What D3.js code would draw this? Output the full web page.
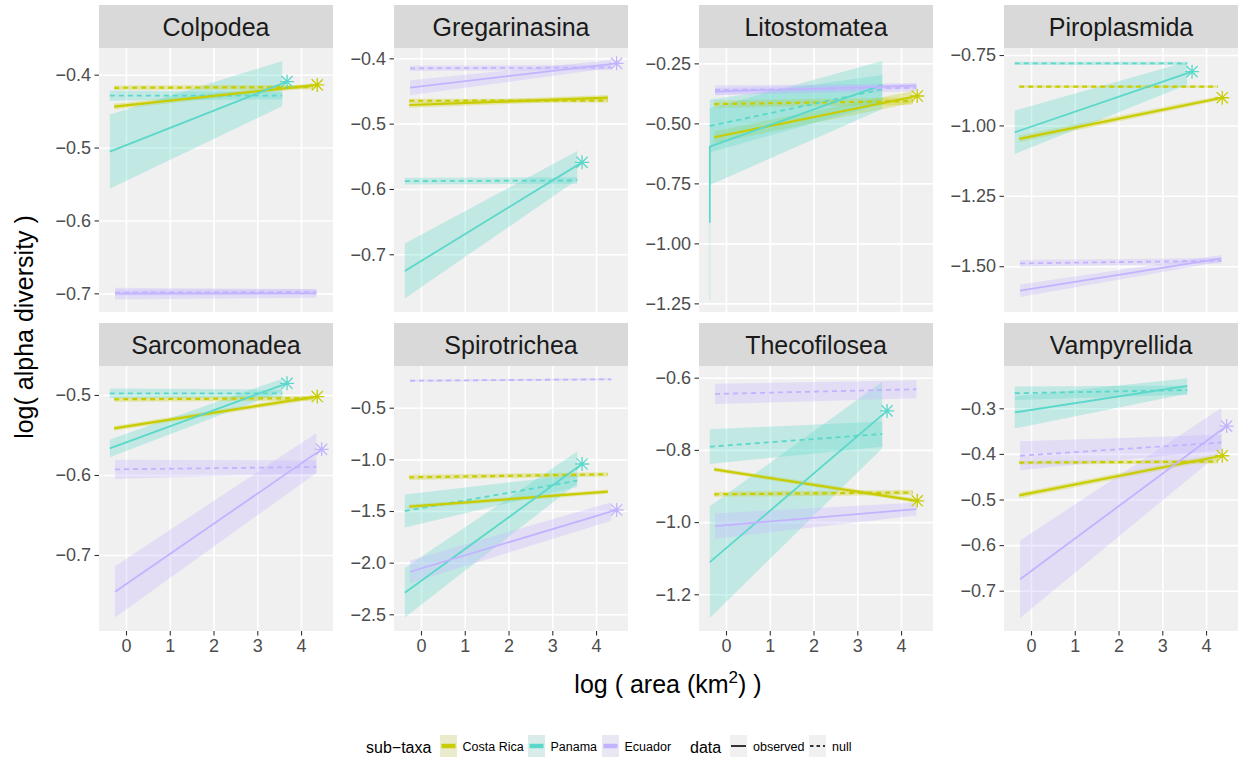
<!DOCTYPE html>
<html>
<head>
<meta charset="utf-8">
<script src="https://cdn.jsdelivr.net/npm/d3@7"></script>
<style>
body { margin: 0; background: #fff; }
text { font-family: "Liberation Sans", Arial, Helvetica, sans-serif; }
</style>
</head>
<body>
<svg id="chart" width="1239" height="761"></svg>
<script>
let TAXA = ["Colpodea", "Gregarinasina", "Litostomatea", "Piroplasmida",
            "Sarcomonadea", "Spirotrichea", "Thecofilosea", "Vampyrellida"];
let SITES = ["Costa Rica", "Panama", "Ecuador"];
let SITE_COLORS = ["#c8cc00", "#5ad8c9", "#c3b3ff"];

let X_TICKS = [0, 1, 2, 3, 4];
let X_DOMAIN = [-0.617, 4.73];
// free y scales, [top, bottom]
let Y_DOMAINS = [[-0.3634, -0.7256], [-0.3842, -0.7884], [-0.186, -1.286], [-0.725, -1.6626],
                 [-0.4638, -0.795], [-0.0963, -2.6617], [-0.5676, -1.3017], [-0.2072, -0.7884]];
let Y_TICKS = [[-0.4, -0.5, -0.6, -0.7], [-0.4, -0.5, -0.6, -0.7], [-0.25, -0.5, -0.75, -1, -1.25],
               [-0.75, -1, -1.25, -1.5], [-0.5, -0.6, -0.7], [-0.5, -1, -1.5, -2, -2.5],
               [-0.6, -0.8, -1, -1.2], [-0.3, -0.4, -0.5, -0.6, -0.7]];
let Y_FORMATS = [".1f", ".1f", ".2f", ".2f", ".1f", ".1f", ".1f", ".1f"];

// x extent per site: first point, last point of the band, asterisk position
let X_START = [-0.27, -0.37, -0.25];
let X_END = [4.27, 3.57, 4.35];
let X_STAR = [4.37, 3.68, 4.47];

// taxon, site, y at start, y at end, band half width at start, at end, significant
let observed = [
    ["Colpodea", "Costa Rica", -0.4438, -0.414, 0.004, 0.003, true],
    ["Colpodea", "Panama", -0.5055, -0.4096, 0.051, 0.031, true],
    ["Colpodea", "Ecuador", -0.7005, -0.700, 0.008, 0.006, false],
    ["Gregarinasina", "Costa Rica", -0.4715, -0.4603, 0.004, 0.004, false],
    ["Gregarinasina", "Panama", -0.7257, -0.5593, 0.042, 0.022, true],
    ["Gregarinasina", "Ecuador", -0.445, -0.4077, 0.0115, 0.006, true],
    ["Litostomatea", "Costa Rica", -0.558, -0.386, 0.025, 0.025, true],
    ["Litostomatea", "Panama", -0.597, -0.340, 0.16, 0.10, false],
    ["Litostomatea", "Ecuador", -0.368, -0.343, 0.015, 0.012, false],
    ["Piroplasmida", "Costa Rica", -1.048, -0.9016, 0.012, 0.008, true],
    ["Piroplasmida", "Panama", -1.0245, -0.809, 0.077, 0.041, true],
    ["Piroplasmida", "Ecuador", -1.587, -1.472, 0.022, 0.012, false],
    ["Sarcomonadea", "Costa Rica", -0.5417, -0.502, 0.003, 0.003, true],
    ["Sarcomonadea", "Panama", -0.5667, -0.4854, 0.011, 0.008, true],
    ["Sarcomonadea", "Ecuador", -0.746, -0.568, 0.032, 0.025, true],
    ["Spirotrichea", "Costa Rica", -1.458, -1.313, 0.02, 0.02, false],
    ["Spirotrichea", "Panama", -2.291, -1.045, 0.24, 0.155, true],
    ["Spirotrichea", "Ecuador", -2.088, -1.49, 0.11, 0.09, true],
    ["Thecofilosea", "Costa Rica", -0.854, -0.941, 0.006, 0.006, true],
    ["Thecofilosea", "Panama", -1.111, -0.692, 0.155, 0.092, true],
    ["Thecofilosea", "Ecuador", -1.011, -0.964, 0.035, 0.018, false],
    ["Vampyrellida", "Costa Rica", -0.491, -0.404, 0.006, 0.006, true],
    ["Vampyrellida", "Panama", -0.309, -0.251, 0.035, 0.017, false],
    ["Vampyrellida", "Ecuador", -0.675, -0.339, 0.085, 0.048, true]
];

// taxon, site, y at start, y at end, band half width at start, at end
let nullFits = [
    ["Colpodea", "Costa Rica", -0.418, -0.417, 0.003, 0.003],
    ["Colpodea", "Panama", -0.4288, -0.4288, 0.007, 0.005],
    ["Colpodea", "Ecuador", -0.699, -0.698, 0.004, 0.004],
    ["Gregarinasina", "Costa Rica", -0.465, -0.4647, 0.003, 0.003],
    ["Gregarinasina", "Panama", -0.588, -0.587, 0.005, 0.005],
    ["Gregarinasina", "Ecuador", -0.4153, -0.414, 0.004, 0.004],
    ["Litostomatea", "Costa Rica", -0.4196, -0.407, 0.015, 0.015],
    ["Litostomatea", "Panama", -0.511, -0.358, 0.11, 0.06],
    ["Litostomatea", "Ecuador", -0.361, -0.352, 0.02, 0.015],
    ["Piroplasmida", "Costa Rica", -0.8625, -0.8625, 0.004, 0.004],
    ["Piroplasmida", "Panama", -0.7795, -0.7795, 0.006, 0.006],
    ["Piroplasmida", "Ecuador", -1.49, -1.4805, 0.012, 0.01],
    ["Sarcomonadea", "Costa Rica", -0.5054, -0.504, 0.003, 0.003],
    ["Sarcomonadea", "Panama", -0.498, -0.498, 0.006, 0.005],
    ["Sarcomonadea", "Ecuador", -0.593, -0.59, 0.012, 0.008],
    ["Spirotrichea", "Costa Rica", -1.174, -1.145, 0.025, 0.02],
    ["Spirotrichea", "Panama", -1.5, -1.207, 0.16, 0.06],
    ["Spirotrichea", "Ecuador", -0.239, -0.225, 0.01, 0.01],
    ["Thecofilosea", "Costa Rica", -0.923, -0.918, 0.007, 0.007],
    ["Thecofilosea", "Panama", -0.791, -0.756, 0.048, 0.035],
    ["Thecofilosea", "Ecuador", -0.645, -0.632, 0.028, 0.025],
    ["Vampyrellida", "Costa Rica", -0.419, -0.417, 0.004, 0.004],
    ["Vampyrellida", "Panama", -0.267, -0.26, 0.015, 0.01],
    ["Vampyrellida", "Ecuador", -0.404, -0.375, 0.032, 0.017]
];

// odd vertical piece at the start of a line: taxon, site, line from, band low
let spikes = [["Litostomatea", "Panama", -0.914, -1.236]];

let svg = d3.select("#chart");
let colLeft = [99, 394, 699, 1004];
let panelW = 234;
let stripTop = [5, 323];
let stripH = 43;
let plotTop = [48, 366];
let plotBottom = [312, 631];

let x = d3.scaleLinear().domain(X_DOMAIN).range([0, panelW]);

function fitGeom(row, isObs) {
    let s = SITES.indexOf(row[1]);
    let x0 = X_START[s];
    let x1 = (isObs && row[6]) ? X_STAR[s] : X_END[s];
    let at = xv => row[2] + (row[3] - row[2]) * (xv - x0) / (x1 - x0);
    let band = [
        {x: x0, lo: row[2] - row[4], hi: row[2] + row[4]},
        {x: X_END[s], lo: at(X_END[s]) - row[5], hi: at(X_END[s]) + row[5]}
    ];
    return {s: s, line: [{x: x0, y: row[2]}, {x: x1, y: row[3]}], band: band, star: isObs && row[6]};
}

function starPath(cx, cy) {
    let a = 7, b = 5.6;
    return `M${cx - a},${cy}L${cx + a},${cy}M${cx},${cy - a}L${cx},${cy + a}` +
           `M${cx - b},${cy - b}L${cx + b},${cy + b}M${cx - b},${cy + b}L${cx + b},${cy - b}`;
}

TAXA.forEach((taxon, i) => {
    let col = i % 4, row = Math.floor(i / 4);
    let h = plotBottom[row] - plotTop[row];
    let y = d3.scaleLinear().domain(Y_DOMAINS[i]).range([0, h]);

    // strip
    svg.append("rect")
        .attr("x", colLeft[col]).attr("y", stripTop[row])
        .attr("width", panelW).attr("height", stripH)
        .attr("fill", "#d9d9d9");
    svg.append("text")
        .attr("x", colLeft[col] + panelW / 2)
        .attr("y", stripTop[row] + stripH / 2 + 9)
        .attr("text-anchor", "middle")
        .attr("font-size", 25)
        .attr("fill", "#1a1a1a")
        .text(taxon);

    let g = svg.append("g").attr("transform", `translate(${colLeft[col]},${plotTop[row]})`);
    g.append("rect").attr("width", panelW).attr("height", h).attr("fill", "#f0f0f0");

    // grid
    let gx = g.append("g")
        .call(d3.axisBottom(x).tickValues(X_TICKS).tickSize(h).tickFormat(""));
    let gy = g.append("g").call(d3.axisRight(y).tickValues(Y_TICKS[i]).tickSize(panelW).tickFormat(""));
    [gx, gy].forEach(a => {
        a.select(".domain").remove();
        a.selectAll("line").attr("stroke", "#ffffff").attr("stroke-width", 1.6);
    });

    let clipId = "clip" + i;
    g.append("clipPath").attr("id", clipId)
        .append("rect").attr("width", panelW).attr("height", h);
    let body = g.append("g").attr("clip-path", `url(#${clipId})`);

    let area = d3.area().x(d => x(d.x)).y0(d => y(d.lo)).y1(d => y(d.hi));
    let line = d3.line().x(d => x(d.x)).y(d => y(d.y));

    let obs = observed.filter(r => r[0] == taxon).map(r => fitGeom(r, true));
    let nul = nullFits.filter(r => r[0] == taxon).map(r => fitGeom(r, false));
    let sp = spikes.filter(r => r[0] == taxon);

    // bands
    obs.concat(nul).forEach(f => {
        body.append("path").attr("d", area(f.band))
            .attr("fill", SITE_COLORS[f.s]).attr("fill-opacity", 0.3);
    });
    sp.forEach(r => {
        let s = SITES.indexOf(r[1]);
        body.append("line")
            .attr("x1", x(X_START[s])).attr("x2", x(X_START[s]))
            .attr("y1", y(r[2])).attr("y2", y(r[3]))
            .attr("stroke", SITE_COLORS[s]).attr("stroke-opacity", 0.15).attr("stroke-width", 2);
    });

    // null lines
    nul.forEach(f => {
        body.append("path").attr("d", line(f.line))
            .attr("fill", "none").attr("stroke", SITE_COLORS[f.s])
            .attr("stroke-width", f.s == 0 ? 2.2 : 1.8)
            .attr("stroke-dasharray", "5,4");
    });
    // observed lines
    obs.forEach(f => {
        let pts = f.line.slice();
        let spk = sp.find(r => SITES.indexOf(r[1]) == f.s);
        if (spk) pts.unshift({x: f.line[0].x, y: spk[2]});
        body.append("path").attr("d", line(pts))
            .attr("fill", "none").attr("stroke", SITE_COLORS[f.s])
            .attr("stroke-width", f.s == 0 ? 2.2 : 1.8);
    });
    // significance asterisks
    obs.filter(f => f.star).forEach(f => {
        let p = f.line[1];
        g.append("path").attr("d", starPath(x(p.x), y(p.y)))
            .attr("fill", "none").attr("stroke", SITE_COLORS[f.s]).attr("stroke-width", 1.3);
    });

    // y axis
    let ay = g.append("g")
        .call(d3.axisLeft(y).tickValues(Y_TICKS[i]).tickFormat(d3.format(Y_FORMATS[i]))
            .tickSize(4.5).tickPadding(3.5));
    ay.select(".domain").remove();
    ay.selectAll("line").attr("stroke", "#333333").attr("stroke-width", 1.1);
    ay.selectAll("text").attr("font-size", 18).attr("fill", "#4d4d4d")
        .attr("font-family", "'Liberation Sans', Arial, Helvetica, sans-serif");

    // x axis on the bottom row only
    if (row == 1) {
        let ax = g.append("g").attr("transform", `translate(0,${h})`)
            .call(d3.axisBottom(x).tickValues(X_TICKS).tickFormat(d3.format("d"))
                .tickSize(4.5).tickPadding(4));
        ax.select(".domain").remove();
        ax.selectAll("line").attr("stroke", "#333333").attr("stroke-width", 1.1);
        ax.selectAll("text").attr("font-size", 18).attr("fill", "#4d4d4d")
            .attr("font-family", "'Liberation Sans', Arial, Helvetica, sans-serif");
    }
});

// axis titles
let xt = svg.append("text")
    .attr("x", 668).attr("y", 693)
    .attr("text-anchor", "middle").attr("font-size", 25).attr("fill", "#000");
xt.append("tspan").text("log ( area (km");
xt.append("tspan").attr("font-size", 17).attr("dy", -10).text("2");
xt.append("tspan").attr("dy", 10).text(") )");

svg.append("text")
    .attr("transform", "translate(33,327) rotate(-90)")
    .attr("text-anchor", "middle").attr("font-size", 25).attr("fill", "#000")
    .text("log( alpha diversity )");

// legend
let legY = 746;
let legend = svg.append("g");
legend.append("text").attr("x", 366).attr("y", legY + 7).attr("font-size", 16).text("sub\u2212taxa");
let siteKeyX = [440, 528, 602];
SITES.forEach((site, k) => {
    legend.append("rect").attr("x", siteKeyX[k]).attr("y", legY - 11)
        .attr("width", 17).attr("height", 22).attr("fill", "#f0f0f0");
    legend.append("rect").attr("x", siteKeyX[k]).attr("y", legY - 11)
        .attr("width", 17).attr("height", 22).attr("fill", SITE_COLORS[k]).attr("fill-opacity", 0.15);
    legend.append("line").attr("x1", siteKeyX[k] + 1.5).attr("x2", siteKeyX[k] + 15.5)
        .attr("y1", legY).attr("y2", legY)
        .attr("stroke", SITE_COLORS[k]).attr("stroke-width", 4.5);
    legend.append("text").attr("x", siteKeyX[k] + 22.5).attr("y", legY + 5)
        .attr("font-size", 12.5).attr("fill", "#000").text(site);
});
legend.append("text").attr("x", 690).attr("y", legY + 7).attr("font-size", 16).text("data");
let dataKeys = ["observed", "null"];
let dataKeyX = [730, 809];
dataKeys.forEach((name, k) => {
    legend.append("rect").attr("x", dataKeyX[k]).attr("y", legY - 11)
        .attr("width", 17).attr("height", 22).attr("fill", "#f0f0f0");
    legend.append("line").attr("x1", dataKeyX[k] + 1).attr("x2", dataKeyX[k] + 16)
        .attr("y1", legY).attr("y2", legY)
        .attr("stroke", "#333333").attr("stroke-width", 2)
        .attr("stroke-dasharray", k == 1 ? "3.5,3" : null);
    legend.append("text").attr("x", dataKeyX[k] + 23).attr("y", legY + 5)
        .attr("font-size", 12.5).attr("fill", "#000").text(name);
});
</script>
</body>
</html>
